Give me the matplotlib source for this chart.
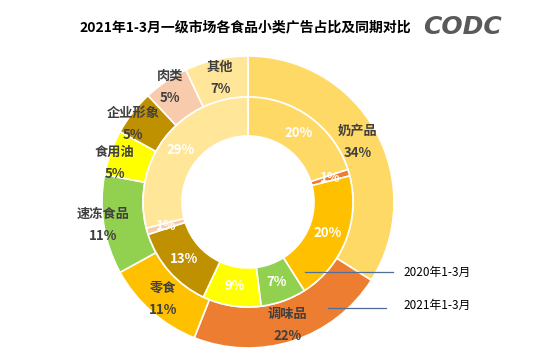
import matplotlib.pyplot as plt
import numpy as np

plt.rcParams['font.family'] = ['Noto Sans CJK SC', 'DejaVu Sans']

# data
categories = ['奶产品', '调味品', '零食', '速冻食品', '食用油', '企业形象', '肉类', '其他']
share_2021 = [34, 22, 11, 11, 5, 5, 5, 7]
share_2020 = [20, 1, 20, 7, 9, 13, 1, 29]
colors = ['#FFD966', '#ED7D31', '#FFC000', '#92D050', '#FFFF00', '#BF9000', '#F8CBAD', '#FFE699']

W, H = 552, 360
fig = plt.figure(figsize=(W / 100, H / 100), dpi=100)
ax = fig.add_axes([0, 0, 1, 1])

cx, cy = 248, H - 202
r_out, r_mid, r_in = 146, 105, 66

wp = dict(edgecolor='white', linewidth=1.2)
outer, _ = ax.pie(share_2021, colors=colors, startangle=90, counterclock=False,
                  center=(cx, cy), radius=r_out, frame=True,
                  wedgeprops=dict(width=r_out - r_mid, **wp))
inner, _ = ax.pie(share_2020, colors=colors, startangle=90, counterclock=False,
                  center=(cx, cy), radius=r_mid, frame=True,
                  wedgeprops=dict(width=r_mid - r_in, **wp))
ax.set_xlim(0, W)
ax.set_ylim(0, H)
ax.set_aspect('equal')
ax.axis('off')


def mid_angles(vals):
    c = np.cumsum(vals)
    return (c - np.array(vals) / 2) / np.sum(vals) * 360


# outer labels (name + percentage), pushed outward where the slice is narrow
label_r = [125, 129, 129, 147, 139, 139, 139, 127]
label_da = [0, 0, 0, 0, -3.5, -3.6, 0, 0]
for name, v, a, r, da in zip(categories, share_2021, mid_angles(share_2021), label_r, label_da):
    a = np.deg2rad(a + da)
    x = cx + r * np.sin(a)
    y = cy + r * np.cos(a)
    ax.text(x, y + 11, name, ha='center', va='center', fontsize=9.5,
            fontweight='bold', color='#404040')
    ax.text(x, y - 11, f'{v}%', ha='center', va='center', fontsize=9.5,
            fontweight='bold', color='#404040')

# inner labels
for w, v, a in zip(inner, share_2020, mid_angles(share_2020)):
    a = np.deg2rad(a)
    r = (r_mid + r_in) / 2
    t = ax.text(cx + r * np.sin(a), cy + r * np.cos(a), f'{v}%', ha='center',
                va='center', fontsize=9.5, fontweight='bold', color='white')
    if v <= 1:
        t.set_clip_path(w)

# series pointers
ax.plot([305, 393], [H - 272, H - 272], color='#4F6E9A', lw=0.9)
ax.text(403, H - 272, '2020年1-3月', ha='left', va='center', fontsize=8.5, color='black')
ax.plot([328, 386], [H - 308, H - 308], color='#4F6E9A', lw=0.9)
ax.text(403, H - 305, '2021年1-3月', ha='left', va='center', fontsize=8.5, color='black')

# title and logo
ax.text(245, H - 27, '2021年1-3月一级市场各食品小类广告占比及同期对比', ha='center',
        va='center', fontsize=10, fontweight='bold', color='black')
ax.text(462, H - 27, 'CODC', ha='center', va='center', fontsize=18,
        fontweight='bold', fontstyle='italic', color='#595959', family='DejaVu Sans')

fig.savefig('out.png', dpi=100)
